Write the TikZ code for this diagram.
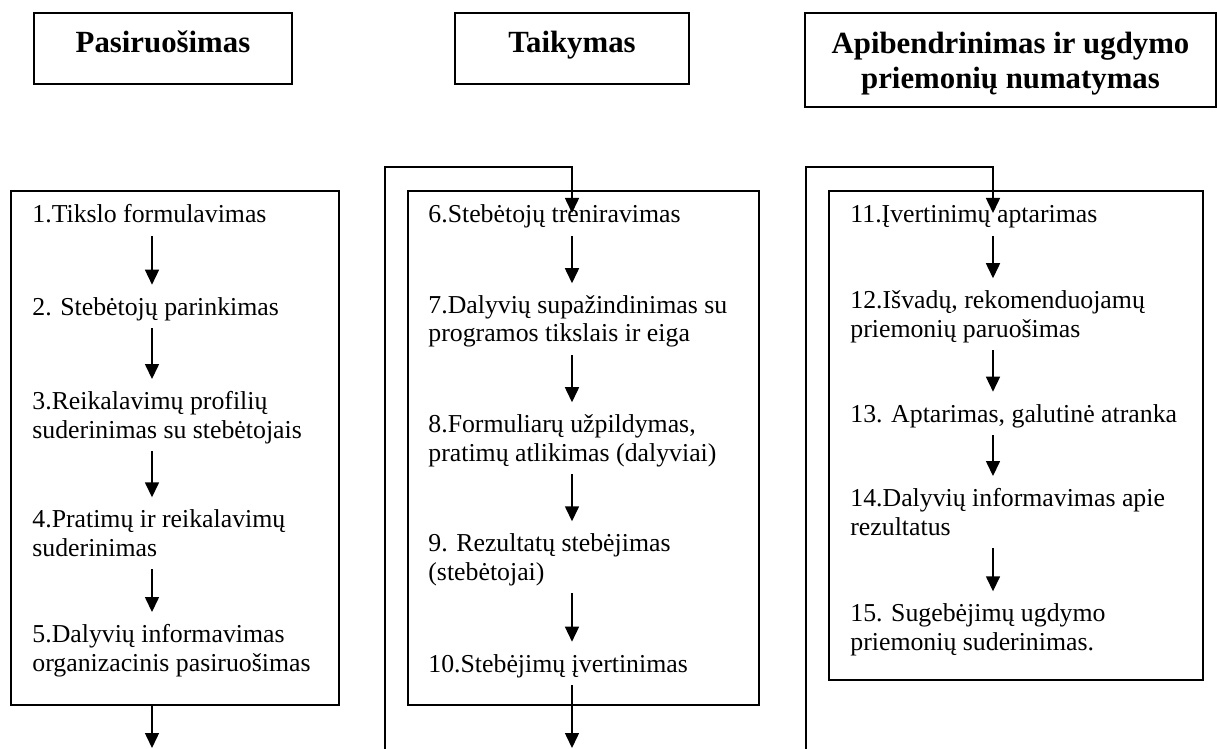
\documentclass[tikz,border=0pt]{standalone}
\usepackage{fontspec}
\setmainfont{Liberation Serif}
\usetikzlibrary{arrows.meta}

\tikzset{
  hdbox/.style={draw, line width=1pt, align=center, inner sep=0pt,
    font=\fontsize{15.4}{17.5}\selectfont\bfseries},
  frm/.style={draw, line width=0.8pt, inner sep=0pt},
  stepnode/.style={anchor=base west, align=left, inner xsep=0pt, inner ysep=0pt,
    text depth=3pt, font=\fontsize{12.9}{14.2}\selectfont},
  arr/.style={line width=0.75pt, -{Triangle[length=7.5pt,width=7pt]}},
}

\begin{document}
\begin{tikzpicture}[x=0.5pt, y=-0.5pt]
  \useasboundingbox (0,0) rectangle (1217,749);

  % headings
  \node[hdbox, minimum width=129pt, minimum height=35.5pt,
    text height=11pt, text depth=6.5pt] (hd1) at (163,48.5) {Pasiruošimas};
  \node[hdbox, minimum width=117pt, minimum height=35.5pt,
    text height=11pt, text depth=6.5pt] (hd2) at (572,48.5) {Taikymas};
  \node[hdbox, line width=1.2pt, minimum width=205.5pt, minimum height=47pt,
    text depth=0pt] (hd3) at (1010.5,60) {Apibendrinimas ir ugdymo\\priemonių numatymas};

  % frames
  \node[frm, minimum width=164pt, minimum height=257pt] (frA) at (175,448) {};
  \node[frm, minimum width=175.5pt, minimum height=257pt] (frB) at (583.5,448) {};
  \node[frm, line width=1.1pt, minimum width=187pt, minimum height=244.5pt]
    (frC) at (1016,435.5) {};

  % arrow axes
  \coordinate (ax1) at (152,0);
  \coordinate (ax2) at (572,0);
  \coordinate (ax3) at (993,0);

  % column 1 (placed at the baseline of the last line)
  \node[stepnode] (s1) at (32,223) {1.Tikslo formulavimas};
  \node[stepnode] (s2) at (32,315) {2. Stebėtojų parinkimas};
  \node[stepnode] (s3) at (32,438) {3.Reikalavimų profilių\\suderinimas su stebėtojais};
  \node[stepnode] (s4) at (32,556) {4.Pratimų ir reikalavimų\\suderinimas};
  \node[stepnode] (s5) at (32,671) {5.Dalyvių informavimas\\organizacinis pasiruošimas};

  % column 2
  \node[stepnode] (s6) at (428,223) {6.Stebėtojų treniravimas};
  \node[stepnode] (s7) at (428,342) {7.Dalyvių supažindinimas su\\programos tikslais ir eiga};
  \node[stepnode] (s8) at (428,461) {8.Formuliarų užpildymas,\\pratimų atlikimas (dalyviai)};
  \node[stepnode] (s9) at (428,580) {9. Rezultatų stebėjimas\\(stebėtojai)};
  \node[stepnode] (s10) at (428,672) {10.Stebėjimų įvertinimas};

  % column 3
  \node[stepnode] (s11) at (850,223) {11.Įvertinimų aptarimas};
  \node[stepnode] (s12) at (850,337) {12.Išvadų, rekomenduojamų\\priemonių paruošimas};
  \node[stepnode] (s13) at (850,422) {13. Aptarimas, galutinė atranka};
  \node[stepnode] (s14) at (850,535) {14.Dalyvių informavimas apie\\rezultatus};
  \node[stepnode] (s15) at (850,650) {15. Sugebėjimų ugdymo\\priemonių suderinimas.};

  % arrows inside the frames
  \foreach \a/\b/\x in {s1/s2/ax1, s2/s3/ax1, s3/s4/ax1, s4/s5/ax1,
                        s6/s7/ax2, s7/s8/ax2, s8/s9/ax2, s9/s10/ax2,
                        s11/s12/ax3, s12/s13/ax3, s13/s14/ax3, s14/s15/ax3}
    \draw[arr, shorten <=3.5pt, shorten >=6pt] (\a.south -| \x) -- (\b.north -| \x);

  % arrows leaving the frames
  \coordinate (out1) at (152,748);
  \coordinate (out2) at (572,748);
  \draw[arr] (frA.south -| ax1) -- (out1);
  \draw[arr, shorten <=3.5pt] (s10.south -| ax2) -- (out2);

  % feedback lines into the frames
  \coordinate (fb2) at (385,749);
  \coordinate (in2) at (572,213);
  \coordinate (fb3) at (806,749);
  \coordinate (in3) at (993,213);
  \draw[arr] (fb2) -- ++(0,-582) -| (in2);
  \draw[arr] (fb3) -- ++(0,-582) -| (in3);
\end{tikzpicture}
\end{document}
